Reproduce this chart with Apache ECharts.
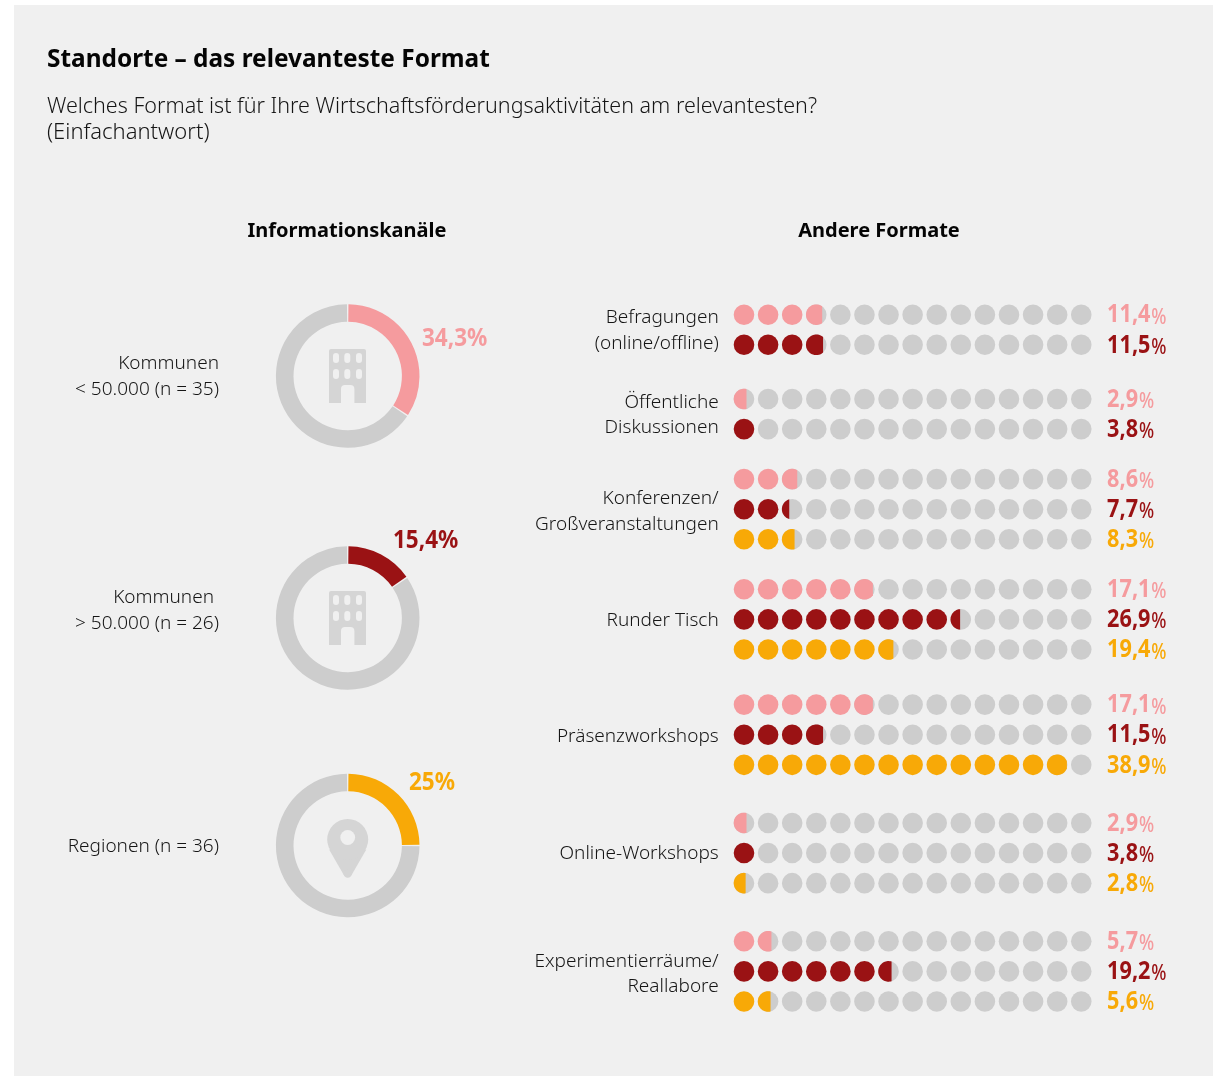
<!DOCTYPE html>
<html lang="de">
<head>
<meta charset="utf-8">
<title>Standorte – das relevanteste Format</title>
<style>
html,body{margin:0;padding:0;background:#fff}
#chart{width:1213px;height:1076px}
</style>
<script src="https://cdn.jsdelivr.net/npm/echarts@6/dist/echarts.min.js"></script>
</head>
<body>
<div id="chart"></div>
<script>
// Survey values (percent)
const formatLabels = [
  'Befragungen\n(online/offline)',
  'Öffentliche\nDiskussionen',
  'Konferenzen/\nGroßveranstaltungen',
  'Runder Tisch',
  'Präsenzworkshops',
  'Online-Workshops',
  'Experimentierräume/\nReallabore'
];
const kommunenKlein = [11.4, 2.9, 8.6, 17.1, 17.1, 2.9, 5.7];
const kommunenGross = [11.5, 3.8, 7.7, 26.9, 11.5, 3.8, 19.2];
const regionen = [null, null, 8.3, 19.4, 38.9, 2.8, 5.6];

const channelLabels = [['Kommunen', '< 50.000 (n = 35)'], ['Kommunen', '> 50.000 (n = 26)'], ['Regionen (n = 36)']];
const channelShares = [34.3, 15.4, 25];

// Colours
const PANEL = '#f0f0f0', GREY = '#cdcdcd', ICON = '#d5d5d5', INK = '#050505', TEXT = '#151515';
const PINK = '#f59b9e', RED = '#9a1214', ORANGE = '#f8a907';
const groupColours = [PINK, RED, ORANGE];
const FONT = '"Noto Sans", sans-serif';

// Layout of the dot rows
const dotCount = 15, dotPitch = 2.707, dotRadius = 1.157;
const scaleMin = 1.46, scaleMax = 42.07;
const groupGaps = [1.8, 1.66, 1.66, 1.83, 1.93, 1.93];
const labelNudge = [1, 1, 2.5, 1, 2, 0.5, 2.5];

// Flatten the three series into rows, one value per row
const rows = [], groups = [];
let pos = 0;
formatLabels.forEach((label, g) => {
  if (g > 0) pos += groupGaps[g - 1];
  const first = pos;
  [kommunenKlein, kommunenGross, regionen].forEach((series, s) => {
    if (series[g] == null) return;
    rows.push({ value: [series[g], pos], colour: groupColours[s] });
    pos += 1;
  });
  pos -= 1;
  groups.push({ value: [scaleMin, (first + pos) / 2], label, nudge: labelNudge[g] });
});
const rowMax = pos;

const pct = v => String(v).replace('.', ',');

// Partial dot: the part of a circle lying left of a vertical cut
function segment(cx, cy, r, cutX) {
  const a = Math.acos(Math.max(-1, Math.min(1, (cutX - cx) / r)));
  const pts = [];
  const n = 40;
  for (let i = 0; i <= n; i++) {
    const t = a + (2 * Math.PI - 2 * a) * i / n;
    pts.push([cx + r * Math.cos(t), cy - r * Math.sin(t)]);
  }
  return pts;
}

function renderRow(params, api) {
  const row = rows[params.dataIndex];
  const value = api.value(0), y = api.value(1);
  const fillX = api.coord([value, y])[0];
  const r = api.size([dotRadius, 0])[0];
  const cy = api.coord([value, y])[1];
  const children = [];
  for (let i = 0; i < dotCount; i++) {
    const cx = api.coord([scaleMin + dotRadius + i * dotPitch, y])[0];
    const full = fillX >= cx + r;
    children.push({ type: 'circle', shape: { cx, cy, r }, style: { fill: full ? row.colour : GREY } });
    if (!full && fillX > cx - r) {
      children.push({ type: 'polygon', shape: { points: segment(cx, cy, r, fillX) }, style: { fill: row.colour } });
    }
  }
  const labelX = api.coord([scaleMax, y])[0] + 12;
  children.push({
    type: 'text', x: labelX, y: cy + 0.5, scaleX: 0.85,
    style: {
      text: '{n|' + pct(value) + '}{p|%}',
      textAlign: 'left', textVerticalAlign: 'middle',
      rich: {
        n: { fontFamily: FONT, fontSize: 25.5, fontWeight: 700, fill: row.colour },
        p: { fontFamily: FONT, fontSize: 21, fontWeight: 500, fill: row.colour, padding: [5, 0, 0, 1] }
      }
    }
  });
  return { type: 'group', children };
}

function renderFormatLabel(params, api) {
  const p = api.coord([api.value(0), api.value(1)]);
  const g = groups[params.dataIndex];
  return {
    type: 'text', x: p[0] - 15, y: p[1] + g.nudge,
    style: {
      text: g.label,
      fontFamily: FONT, fontSize: 19, fontWeight: 300, fill: TEXT,
      lineHeight: 25.5, textAlign: 'right', textVerticalAlign: 'middle'
    }
  };
}

// Donut rings
const donutCentres = [[347.7, 376], [347.7, 618], [347.7, 845.5]];
const shareColours = [PINK, RED, ORANGE];
const donutSeries = channelShares.map((share, i) => ({
  type: 'pie', silent: true, animation: false,
  center: donutCentres[i], radius: [54.2, 71.8], startAngle: 90, clockwise: true, padAngle: 1.2,
  label: { show: false }, labelLine: { show: false },
  data: [
    { value: share, itemStyle: { color: shareColours[i] } },
    { value: 100 - share, itemStyle: { color: GREY } }
  ]
}));

const text = (x, y, str, extra) => ({
  type: 'text', x, y,
  style: Object.assign({
    text: str, fontFamily: FONT, fontSize: 19, fontWeight: 300, fill: TEXT,
    textAlign: 'left', textVerticalAlign: 'middle', lineHeight: 26
  }, extra)
});

// Building pictogram, drawn around its centre
function building(cx, cy) {
  const kids = [{ type: 'rect', shape: { x: cx - 18.7, y: cy - 27, width: 37, height: 54, r: [2, 2, 0, 0] }, style: { fill: ICON } }];
  [-11.7, -0.4, 11.3].forEach(dx => [-18, -2].forEach(dy => {
    kids.push({ type: 'rect', shape: { x: cx + dx - 3, y: cy + dy - 5, width: 6, height: 10, r: 3 }, style: { fill: PANEL } });
  }));
  kids.push({ type: 'rect', shape: { x: cx - 6.7, y: cy + 9, width: 13.4, height: 19, r: [4, 4, 0, 0] }, style: { fill: PANEL } });
  return { type: 'group', children: kids };
}

// Location pin pictogram
function pin(cx, cy) {
  return {
    type: 'group',
    children: [
      { type: 'polygon', shape: { points: [[cx - 18.6, cy + 4], [cx - 3.6, cy + 30], [cx + 3.6, cy + 30], [cx + 18.6, cy + 4]] }, style: { fill: ICON } },
      { type: 'circle', shape: { cx, cy: cy + 28, r: 4.2 }, style: { fill: ICON } },
      { type: 'circle', shape: { cx, cy: cy - 6, r: 20.5 }, style: { fill: ICON } },
      { type: 'circle', shape: { cx, cy: cy - 8, r: 7.4 }, style: { fill: PANEL } }
    ]
  };
}

const shareLabelPos = [[422, 339], [393, 540.5], [409, 782.5]];
const channelLabelY = [[363.5, 389.5], [597.5, 623.5], [846.5]];
const channelLabelRight = [[219, 219], [214, 219], [219]];

const graphics = [
  { type: 'rect', shape: { x: 14, y: 5, width: 1199, height: 1071 }, style: { fill: PANEL } },
  text(47, 60, 'Standorte – das relevanteste Format', { fontSize: 24.4, fontWeight: 700, fill: INK }),
  text(47, 106.5, 'Welches Format ist für Ihre Wirtschaftsförderungsaktivitäten am relevantesten?', { fontSize: 21.5 }),
  text(47, 132.5, '(Einfachantwort)', { fontSize: 22 }),
  text(347, 231, 'Informationskanäle', { fontSize: 20, fontWeight: 700, fill: INK, textAlign: 'center' }),
  text(879, 231, 'Andere Formate', { fontSize: 20, fontWeight: 700, fill: INK, textAlign: 'center' }),
  building(donutCentres[0][0], donutCentres[0][1]),
  building(donutCentres[1][0], donutCentres[1][1]),
  pin(donutCentres[2][0], donutCentres[2][1])
];
channelLabels.forEach((lines, i) => {
  lines.forEach((line, j) => {
    graphics.push(text(channelLabelRight[i][j], channelLabelY[i][j], line, { textAlign: 'right' }));
  });
});
channelShares.forEach((share, i) => {
  const el = text(shareLabelPos[i][0], shareLabelPos[i][1], pct(share) + '%', { fontSize: 25, fontWeight: 700, fill: shareColours[i] });
  el.scaleX = 0.9;
  graphics.push(el);
});

const chart = echarts.init(document.getElementById('chart'), null, { renderer: 'canvas' });
chart.setOption({
  animation: false,
  backgroundColor: '#ffffff',
  grid: { left: 733.7, width: 361.4, top: 314.7, height: 686.8 },
  xAxis: { type: 'value', min: scaleMin, max: scaleMax, show: false },
  yAxis: { type: 'value', min: 0, max: rowMax, inverse: true, show: false },
  graphic: { elements: graphics },
  series: [
    ...donutSeries,
    { type: 'custom', silent: true, clip: false, coordinateSystem: 'cartesian2d', renderItem: renderRow,
      encode: { x: 0, y: 1 }, data: rows.map(r => r.value) },
    { type: 'custom', silent: true, clip: false, coordinateSystem: 'cartesian2d', renderItem: renderFormatLabel,
      encode: { x: 0, y: 1 }, data: groups.map(g => g.value) }
  ]
});
</script>
</body>
</html>
